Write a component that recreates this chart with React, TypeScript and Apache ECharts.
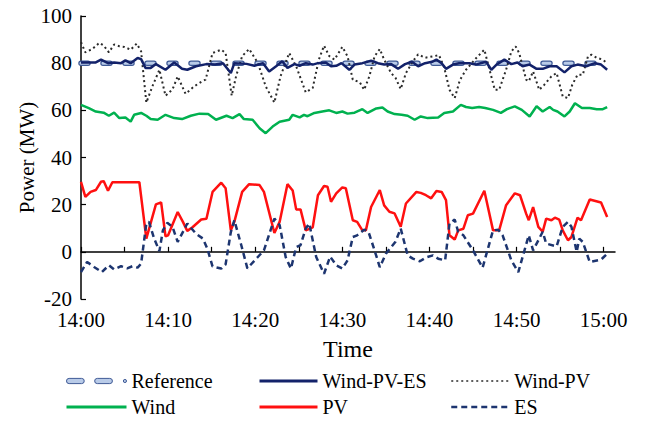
import React, { useEffect, useRef } from "react";
import * as echarts from "echarts";

// Minutes after 14:00 paired with power in MW
const referencePoints: number[][] = [[0, 80], [60.4, 80]];

const windPvEsPoints: number[][] = [
  [0, 80.3], [1.7, 80.3], [2.3, 81.5], [3.1, 80], [3.8, 80.3], [4.6, 80], [5.1, 81.2], [5.7, 80],
  [6.5, 82.2], [6.9, 81.7], [7.4, 78], [8, 78], [8.6, 79.6], [9.7, 77.2], [10.7, 80.3], [11.6, 77.6],
  [12.2, 77.2], [13.2, 78.7], [14.4, 79.6], [15.4, 79.4], [16.3, 80], [17.2, 75.8], [17.6, 80], [19, 79.7],
  [19.9, 78.9], [20.9, 80], [21.6, 76.5], [22.4, 78.7], [23.1, 80.8], [23.7, 78], [24.5, 79.6], [25.1, 78.9],
  [25.8, 80], [26.6, 79.4], [27.2, 80], [28.1, 80.3], [28.7, 78.7], [29.3, 78.9], [29.9, 80], [30.8, 77.2],
  [31.4, 79.4], [32.3, 80], [33.3, 81], [34.1, 80], [34.8, 79.4], [35.6, 79.6], [36.4, 77.6], [37.2, 79.6],
  [38, 80.6], [38.7, 78.7], [39.5, 80], [40.3, 80.6], [40.8, 81.5], [41.4, 80], [41.9, 77.6], [42.7, 79.4],
  [43.4, 80], [44.6, 80], [45.3, 79.4], [46.5, 80.6], [47.1, 77.2], [47.7, 79.4], [48.6, 81.5], [49.4, 79.6],
  [50.1, 80.3], [50.7, 78.7], [51.5, 79.4], [52.3, 77.6], [53, 77.6], [53.8, 78.7], [54.6, 78.7], [55.5, 76.1],
  [56.3, 78.7], [57, 79.4], [58, 78.7], [59, 80], [59.7, 79.4], [60.4, 77.2],
];

const windPvPoints: number[][] = [
  [0, 88.9], [0.5, 84.6], [1.3, 86], [2.1, 88.6], [2.6, 87.5], [3.2, 84.6], [3.8, 87.9], [4.4, 87.2],
  [5, 86.9], [5.7, 85.7], [6.4, 88.3], [6.9, 85], [7.5, 63.3], [8.2, 70.2], [9, 77.2], [9.7, 66.2],
  [10.5, 68.8], [11.1, 74.4], [12, 67], [13, 70.2], [13.9, 72.3], [14.3, 73], [15.1, 84.3], [16.1, 85.7],
  [16.6, 84.3], [17.3, 66.2], [17.8, 74.4], [18.5, 83], [19.3, 86], [20.3, 80.1], [21.2, 70.2], [22.2, 63.3],
  [22.9, 74.4], [23.9, 84.3], [24.7, 78.7], [25.8, 67.6], [26.6, 69.5], [27.3, 81.5], [27.9, 87.4], [28.5, 83],
  [29.1, 81.5], [30, 86.9], [30.6, 82.9], [31.2, 73], [32, 71.9], [32.5, 68.7], [33.1, 74.4], [33.7, 82.9],
  [34.3, 86], [34.8, 81.5], [35.6, 75.8], [36.1, 73.8], [36.7, 69], [37.3, 75.8], [38.1, 80.8], [38.7, 83.7],
  [39.5, 82.3], [40.4, 82.9], [41.1, 83.4], [41.7, 78.1], [42.3, 68.7], [42.9, 65.2], [43.5, 72.9], [44.2, 77.2],
  [45.4, 82.3], [46.3, 85.7], [46.9, 77.2], [47.5, 68.7], [48, 68.7], [48.8, 77.2], [49.4, 85], [49.9, 87.1],
  [50.3, 84.3], [51.1, 73], [51.4, 72.3], [51.9, 76.5], [52.6, 68.7], [53.2, 70.9], [54, 74.4], [54.6, 75.8],
  [55.3, 65.9], [55.9, 65.2], [56.4, 70.9], [57, 75.1], [57.6, 75.1], [58.2, 82.9], [58.6, 83.6], [59.2, 82.3],
  [59.9, 81.5], [60.4, 80],
];

const windPoints: number[][] = [
  [0, 62.3], [0.9, 60.9], [1.7, 59.5], [2.6, 59], [3.2, 57.7], [3.8, 59], [4.4, 56.7], [5.1, 57],
  [5.7, 55.2], [6.1, 58.1], [6.9, 58.9], [7.5, 57.7], [8, 56.3], [8.8, 56], [9.7, 58.1], [10.7, 56.7],
  [11.6, 56.3], [12.6, 57.7], [13.6, 58.6], [14.6, 58.4], [15.5, 56], [16.7, 57.7], [17.4, 56.7], [18.2, 58.4],
  [18.7, 56.3], [19.7, 56], [20.5, 52.4], [21.2, 50.3], [22, 53.1], [22.8, 55.2], [23.9, 56], [24.3, 58.1],
  [25.1, 57], [25.6, 58.1], [26, 57.5], [26.8, 58.9], [27.7, 59.5], [28.5, 60], [29.3, 58.9], [30, 59.5],
  [30.6, 58.6], [31.4, 59], [32.3, 60.5], [32.9, 58.9], [33.9, 60.8], [34.6, 61.2], [35.2, 59.5], [36, 58.4],
  [36.8, 58.1], [37.5, 57.7], [38.3, 56], [39, 57.4], [39.8, 56.7], [41, 57], [41.7, 58.9], [42.7, 59.5],
  [43.6, 62.3], [44.2, 61.4], [44.9, 61], [45.7, 61.4], [46.4, 61], [47.3, 60.2], [48.2, 58.9], [48.9, 60.5],
  [49.8, 61.7], [50.6, 60.2], [51.5, 57.4], [52.3, 61.7], [53, 59.5], [53.8, 61.4], [54.2, 60.2], [54.7, 59.5],
  [55.5, 57.4], [56.1, 59.5], [56.7, 63], [57.5, 61], [58.4, 61], [59.2, 60.5], [59.9, 60.5], [60.4, 61.4],
];

const pvPoints: number[][] = [
  [0, 29.7], [0.5, 23.3], [1.1, 25.4], [1.7, 26.2], [2.3, 29.7], [2.6, 30], [3.1, 25.9], [3.6, 29.5],
  [6.7, 29.5], [7.5, 5.6], [8.6, 20.1], [9.2, 21], [9.7, 6.6], [10, 7], [11.1, 16.9], [11.7, 12.7],
  [12.2, 8.9], [12.8, 10.4], [13.8, 13.7], [14.4, 14], [15.1, 25.4], [16.1, 29.3], [16.6, 27], [17.2, 9.1],
  [17.6, 12.7], [18.5, 25.4], [19.3, 28.7], [20.5, 28.3], [21, 25.4], [22.2, 8], [22.8, 12.7], [23.7, 28.7],
  [24.3, 26], [24.7, 18], [25.2, 18], [25.8, 9.1], [26.6, 10.4], [27.2, 24], [27.9, 27.9], [28.3, 27.6],
  [28.7, 21.2], [29.3, 24.8], [30, 27.3], [30.4, 27], [31.2, 13.4], [31.7, 12.7], [32.3, 9.1], [32.7, 9.1],
  [33.3, 19], [34.3, 26.2], [34.8, 19.7], [35.4, 17], [36, 16.3], [36.7, 10.6], [37.3, 20.5], [38.5, 25.4],
  [39, 25], [39.6, 24], [40.2, 22.7], [40.8, 25.8], [41.4, 25.4], [41.9, 21.9], [42.3, 7], [42.9, 5.2],
  [43.3, 9.1], [43.9, 9.8], [44.4, 15.5], [45, 16.2], [46.3, 25.9], [47.3, 9.1], [48, 9.1], [48.8, 19.8],
  [49.8, 24.8], [50.4, 24], [51.1, 16.2], [51.4, 13.4], [51.9, 19], [52.5, 10.6], [53, 8.5], [53.4, 14.1],
  [54, 13.4], [54.4, 14.5], [54.9, 13.7], [55.3, 9.1], [55.9, 4.9], [56.3, 6.3], [57, 14.5], [57.4, 13.4],
  [58.4, 22.2], [59.7, 20.9], [60.4, 14.8],
];

const esPoints: number[][] = [
  [0, -8.6], [0.7, -4.3], [1.5, -6.4], [2.4, -8.6], [3.2, -5.7], [3.8, -7.5], [4.6, -6.1], [5.3, -7],
  [5.9, -6.1], [6.5, -6.7], [6.9, -5], [7.5, 12], [7.8, 12.7], [8.4, 5.6], [9, 0.3], [9.4, 9.1],
  [9.9, 12.3], [10.5, 10.6], [11.1, 4.2], [12.2, 12], [13.2, 7.7], [14, 5.6], [14.5, 1.4], [15.1, -6.2],
  [16.1, -7.1], [16.6, -5.3], [17.2, 8.4], [17.6, 13.4], [18.4, 2.8], [19.1, -7], [20.3, -2.2], [21, 0.6],
  [22.2, 14.1], [22.8, 11.4], [23.5, -2.3], [24.1, -7.1], [24.7, 2], [25.2, 2.8], [25.8, 9.9], [26.2, 12],
  [27, -2.2], [27.9, -9.3], [28.6, -2], [29.3, -5.7], [30, -7.1], [30.6, -3.6], [31.2, 6.3], [31.7, 7],
  [32.5, 9.4], [33, 8.5], [33.7, 0.6], [34.3, -6.5], [35, -0.8], [35.6, 2], [36.1, 4.3], [36.7, 9.9],
  [37.5, -1.5], [38.1, -2.9], [38.9, -4], [39.6, -2.4], [40.4, -1.5], [41, -2.9], [41.8, -3.6], [42.3, 12],
  [42.9, 13.7], [43.3, 8.5], [43.9, 7], [45, 0.6], [46.1, -6.7], [47.3, 9.1], [47.9, 9.4], [48.4, 7],
  [49.4, -3.6], [50.2, -8.6], [50.8, -0.8], [51.4, 7], [51.9, 0.6], [52.5, 4.9], [53, 8.5], [53.4, 3.5],
  [54.6, 2.3], [55.3, 10.6], [55.9, 12.7], [56.3, 10.6], [56.9, 0], [57.2, 5.6], [57.6, 4.2], [58.4, -4.3],
  [59.7, -3.3], [60.4, -0.8],
];

const xTickMinutes = [0, 5, 10, 15, 20, 25, 30, 35, 40, 45, 50, 55, 60];
const xLabelMinutes = [0, 10, 20, 30, 40, 50, 60];
const yMin = -20;
const yMax = 100;
const yStep = 20;

const SERIF = "Liberation Serif";
const NAVY = "#13226a";
const REF_EDGE = "#3f5a96";
const REF_FILL = "#b9cbe8";

// two capsules and a dot, used as the Reference legend key
const referenceIcon =
  "path://M2.5,0H14.5A2.5,2.5,0,0,1,14.5,5H2.5A2.5,2.5,0,0,1,2.5,0Z" +
  "M29.5,0H41.5A2.5,2.5,0,0,1,41.5,5H29.5A2.5,2.5,0,0,1,29.5,0Z" +
  "M56,1A1.5,1.5,0,1,1,56,4A1.5,1.5,0,1,1,56,1Z";

function clockLabel(minutes: number): string {
  const h = 14 + Math.floor(minutes / 60);
  const m = Math.round(minutes % 60);
  return `${h}:${String(m).padStart(2, "0")}`;
}

function lineSeries(name: string, data: number[][], lineStyle: any, z: number) {
  return {
    name,
    type: "line",
    data,
    symbol: "none",
    smooth: false,
    lineStyle,
    z,
    silent: true,
  };
}

export default function App() {
  const ref = useRef<HTMLDivElement>(null);

  useEffect(() => {
    if (!ref.current) return;
    const chart = echarts.init(ref.current, null, { renderer: "svg" });

    const legendText = { fontFamily: SERIF, fontSize: 20, color: "#000" };
    const legendItem = (name: string, extra: any = {}) => ({ name, textStyle: legendText, ...extra });
    const legendBase = {
      orient: "vertical",
      top: 371,
      height: 60,
      padding: 0,
      itemGap: 6,
      itemWidth: 58,
      itemHeight: 6,
      textStyle: legendText,
      // hides the marker ECharts puts in the middle of line keys
      itemStyle: { opacity: 0 },
      selectedMode: false,
    };

    chart.setOption({
      animation: false,
      backgroundColor: "#fff",
      textStyle: { fontFamily: SERIF },
      grid: { left: 81, right: 31, top: 16, bottom: 122 },
      xAxis: {
        type: "value",
        min: 0,
        max: 61.3,
        name: "Time",
        nameLocation: "middle",
        nameGap: 38,
        nameTextStyle: { fontFamily: SERIF, fontSize: 24, color: "#000" },
        axisLine: { lineStyle: { color: "#000", width: 1.5 } },
        axisTick: { inside: true, length: 5, customValues: xTickMinutes, lineStyle: { color: "#000", width: 1.2 } },
        axisLabel: {
          customValues: xLabelMinutes,
          formatter: (v: number) => clockLabel(v),
          fontFamily: SERIF,
          fontSize: 21,
          color: "#000",
          margin: 10,
        },
        splitLine: { show: false },
      },
      yAxis: {
        type: "value",
        min: yMin,
        max: yMax,
        interval: yStep,
        name: "Power (MW)",
        nameLocation: "middle",
        nameGap: 44,
        nameMoveOverlap: false,
        nameTextStyle: { fontFamily: SERIF, fontSize: 21, color: "#000" },
        axisLine: { show: true, lineStyle: { color: "#000", width: 1.5 } },
        axisTick: { show: true, inside: true, length: 5, lineStyle: { color: "#000", width: 1.2 } },
        axisLabel: { fontFamily: SERIF, fontSize: 21, color: "#000", margin: 9 },
        splitLine: { show: false },
      },
      legend: [
        {
          ...legendBase,
          left: 65,
          itemWidth: 60,
          data: [
            legendItem("Reference", {
              icon: referenceIcon,
              itemStyle: { color: REF_FILL, borderColor: REF_EDGE, borderWidth: 1, opacity: 1 },
            }),
            legendItem("Wind", { lineStyle: { width: 3 } }),
          ],
        },
        {
          ...legendBase,
          left: 258,
          data: [
            legendItem("Wind-PV-ES", { lineStyle: { width: 3 } }),
            legendItem("PV", { lineStyle: { width: 3 } }),
          ],
        },
        {
          ...legendBase,
          left: 450,
          data: [
            legendItem("Wind-PV", { lineStyle: { width: 1.5 } }),
            legendItem("ES", { lineStyle: { width: 2.5 } }),
          ],
        },
      ],
      series: [
        lineSeries("Reference edge", referencePoints, { color: REF_EDGE, width: 5.5, type: [7, 15], cap: "round" }, 1),
        lineSeries("Reference", referencePoints, { color: REF_FILL, width: 3, type: [7, 15], cap: "round" }, 2),
        lineSeries("Wind-PV", windPvPoints, { color: "#2a2a2a", width: 2, type: [2, 3] }, 3),
        lineSeries("Wind-PV-ES", windPvEsPoints, { color: NAVY, width: 2.5 }, 4),
        lineSeries("Wind", windPoints, { color: "#00b14f", width: 2.5 }, 5),
        lineSeries("PV", pvPoints, { color: "#ff1010", width: 2.5 }, 6),
        lineSeries("ES", esPoints, { color: "#1d3570", width: 2.5, type: [6, 4] }, 7),
      ],
    });

    return () => chart.dispose();
  }, []);

  return (
    <div
      ref={ref}
      style={{ position: "absolute", left: 0, top: 0, width: 646, height: 421, background: "#fff" }}
    />
  );
}
